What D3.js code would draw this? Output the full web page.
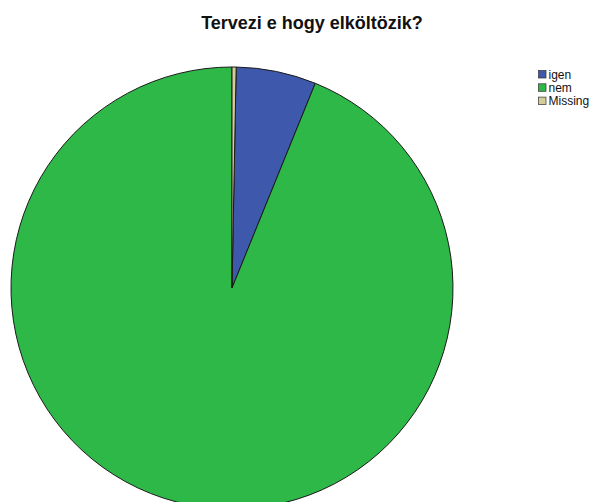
<!DOCTYPE html>
<meta charset="utf-8">
<script src="https://cdn.jsdelivr.net/npm/d3@7"></script>
<style>
  body { margin: 0; background: #fff; }
  text { font-family: "Liberation Sans", Arial, sans-serif; }
</style>
<body>
<script>

var width = 594
var height = 502

// values (percent)
var categories = ["igen", "nem", "Missing"]
var values = [5.85, 93.85, 0.3]
var colors = ["#3E58AC", "#2EB848", "#D3CE97"]

var cx = 232, cy = 288, radius = 221

var svg = d3.select("body").append("svg")
            .attr("width", width)
            .attr("height", height)

svg.append("text")
   .attr("x", 312)
   .attr("y", 29)
   .attr("text-anchor", "middle")
   .style("font-size", "18px")
   .style("font-weight", "bold")
   .style("fill", "#111")
   .text("Tervezi e hogy elköltözik?")

// Missing sits first clockwise from 12 o'clock, so shift the start by its share
var total = d3.sum(values)
var offset = values[2] / total * 2 * Math.PI

var pie = d3.pie().sort(null)
            .startAngle(offset)
            .endAngle(2 * Math.PI + offset)

var arc = d3.arc().innerRadius(0).outerRadius(radius)

svg.append("g")
   .attr("transform", "translate(" + cx + "," + cy + ")")
   .selectAll("path")
   .data(pie(values))
   .enter().append("path")
   .attr("d", arc)
   .attr("fill", function(d, i) { return colors[i] })
   .attr("stroke", "#1a1a1a")
   .attr("stroke-width", 1)

var legend = svg.append("g").attr("transform", "translate(538.5,70.5)")

var row = legend.selectAll("g")
   .data(categories)
   .enter().append("g")
   .attr("transform", function(d, i) { return "translate(0," + (i * 13.3) + ")" })

row.append("rect")
   .attr("width", 7.5)
   .attr("height", 7.5)
   .attr("fill", function(d, i) { return colors[i] })
   .attr("stroke", "#333")
   .attr("stroke-width", 0.7)

row.append("text")
   .attr("x", 10)
   .attr("y", 8)
   .style("font-size", "12px")
   .style("fill", "#111")
   .text(function(d) { return d })

</script>
</body>
